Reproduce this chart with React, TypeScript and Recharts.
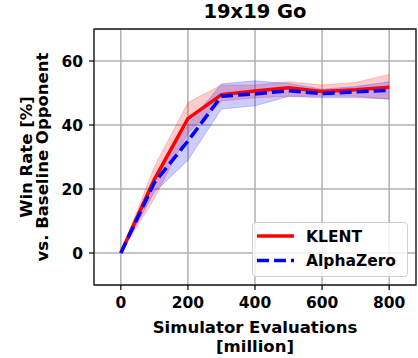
import React from 'react';
import {
  ComposedChart,
  Line,
  Area,
  XAxis,
  YAxis,
  CartesianGrid,
  ReferenceArea,
  Label,
} from 'recharts';

const evals = [0, 100, 200, 300, 400, 500, 600, 700, 800];
const klent = [0, 23, 42, 49.5, 50.6, 51.6, 50.5, 51, 51.8];
const klentLow = [0, 17, 37.5, 47.5, 48.5, 49, 49, 49, 48];
const klentHigh = [0, 27, 47, 52.5, 52.5, 53.5, 52.5, 53.3, 55.8];
const alphaZero = [0, 22, 35, 49, 49.7, 50.7, 49.8, 50.4, 50.8];
const alphaZeroLow = [0, 19, 29, 45, 46, 48.9, 48.5, 48.5, 48.2];
const alphaZeroHigh = [0, 23.5, 40, 52.9, 53.8, 53, 51.2, 52, 53.5];

const xTicks = [0, 200, 400, 600, 800];
const yTicks = [0, 20, 40, 60];

const seriesNames = ['KLENT', 'AlphaZero'];

const data = evals.map((x, i) => ({
  x,
  klent: klent[i],
  alphaZero: alphaZero[i],
  klentBand: [klentLow[i], klentHigh[i]],
  alphaZeroBand: [alphaZeroLow[i], alphaZeroHigh[i]],
}));

const FONT = '"DejaVu Sans", sans-serif';
const tickStyle = { fontSize: 15.5, fontWeight: 'bold', fill: '#000', fontFamily: FONT };

const XLabel = ({ viewBox }: any) => {
  const cx = viewBox.x + viewBox.width / 2;
  return (
    <g style={{ fontFamily: FONT, fontWeight: 'bold', fontSize: 16.5 }}>
      <text x={cx} y={viewBox.y + 48} textAnchor="middle" fill="#000">Simulator Evaluations</text>
      <text x={cx} y={viewBox.y + 66.5} textAnchor="middle" fill="#000">[million]</text>
    </g>
  );
};

const YLabel = ({ viewBox }: any) => {
  const cy = viewBox.y + viewBox.height / 2;
  return (
    <g style={{ fontFamily: FONT, fontWeight: 'bold', fontSize: 16.5 }}>
      <text x={32} y={cy} textAnchor="middle" fill="#000" transform={`rotate(-90, 32, ${cy})`}>Win Rate [%]</text>
      <text x={48} y={cy} textAnchor="middle" fill="#000" transform={`rotate(-90, 48, ${cy})`}>vs. Baseline Opponent</text>
    </g>
  );
};

const LegendBox = () => (
  <div
    style={{
      position: 'absolute',
      left: 252,
      top: 222,
      width: 156,
      height: 55,
      boxSizing: 'border-box',
      border: '1px solid #d0d0d0',
      borderRadius: 4,
      background: 'rgba(255,255,255,0.8)',
      fontFamily: FONT,
      fontWeight: 'bold',
      fontSize: 15.5,
    }}
  >
    <svg width={154} height={53} style={{ display: 'block' }}>
      <line x1={4} x2={41} y1={13} y2={13} stroke="#ff0000" strokeWidth={3.5} />
      <text x={53} y={19} fill="#000">{seriesNames[0]}</text>
      <line x1={4} x2={41} y1={37.5} y2={37.5} stroke="#0000ff" strokeWidth={3.5} strokeDasharray="12 5" />
      <text x={53} y={43} fill="#000">{seriesNames[1]}</text>
    </svg>
  </div>
);

const App: React.FC = () => {
  return (
    <div style={{ position: 'absolute', left: 0, top: 0, width: 418, height: 358, background: '#fff', fontFamily: FONT }}>
      <div
        style={{
          position: 'absolute',
          left: 94,
          width: 322,
          top: 0,
          textAlign: 'center',
          fontWeight: 'bold',
          fontSize: 19.5,
          lineHeight: '24px',
          color: '#000',
        }}
      >
        19x19 Go
      </div>
      <ComposedChart
        width={418}
        height={358}
        data={data}
        margin={{ top: 29, right: 2, left: 0, bottom: 0 }}
      >
        <CartesianGrid stroke="#b0b0b0" strokeWidth={1.5} />
        <XAxis
          type="number"
          dataKey="x"
          domain={[-80, 880]}
          ticks={xTicks}
          allowDataOverflow
          height={73}
          axisLine={false}
          tickLine={{ stroke: '#000', strokeWidth: 1.2 }}
          tickSize={5}
          tickMargin={7}
          tick={tickStyle}
        >
          <Label content={XLabel} />
        </XAxis>
        <YAxis
          type="number"
          domain={[-10, 70]}
          ticks={yTicks}
          allowDataOverflow
          width={94}
          axisLine={false}
          tickLine={{ stroke: '#000', strokeWidth: 1.2 }}
          tickSize={5}
          tickMargin={6}
          tick={tickStyle}
        >
          <Label content={YLabel} />
        </YAxis>
        <Area
          type="linear"
          dataKey="klentBand"
          fill="#ff0000"
          fillOpacity={0.2}
          stroke="#ff0000"
          strokeOpacity={0.2}
          isAnimationActive={false}
        />
        <Area
          type="linear"
          dataKey="alphaZeroBand"
          fill="#0000ff"
          fillOpacity={0.2}
          stroke="#0000ff"
          strokeOpacity={0.2}
          isAnimationActive={false}
        />
        <Line
          type="linear"
          dataKey="klent"
          name={seriesNames[0]}
          stroke="#ff0000"
          strokeWidth={3.5}
          dot={false}
          isAnimationActive={false}
        />
        <Line
          type="linear"
          dataKey="alphaZero"
          name={seriesNames[1]}
          stroke="#0000ff"
          strokeWidth={3.5}
          strokeDasharray="12 5"
          dot={false}
          isAnimationActive={false}
        />
        <ReferenceArea
          x1={-80}
          x2={880}
          y1={-10}
          y2={70}
          fill="none"
          stroke="#222"
          strokeWidth={1.3}
          ifOverflow="extendDomain"
        />
      </ComposedChart>
      <LegendBox />
    </div>
  );
};

export default App;
